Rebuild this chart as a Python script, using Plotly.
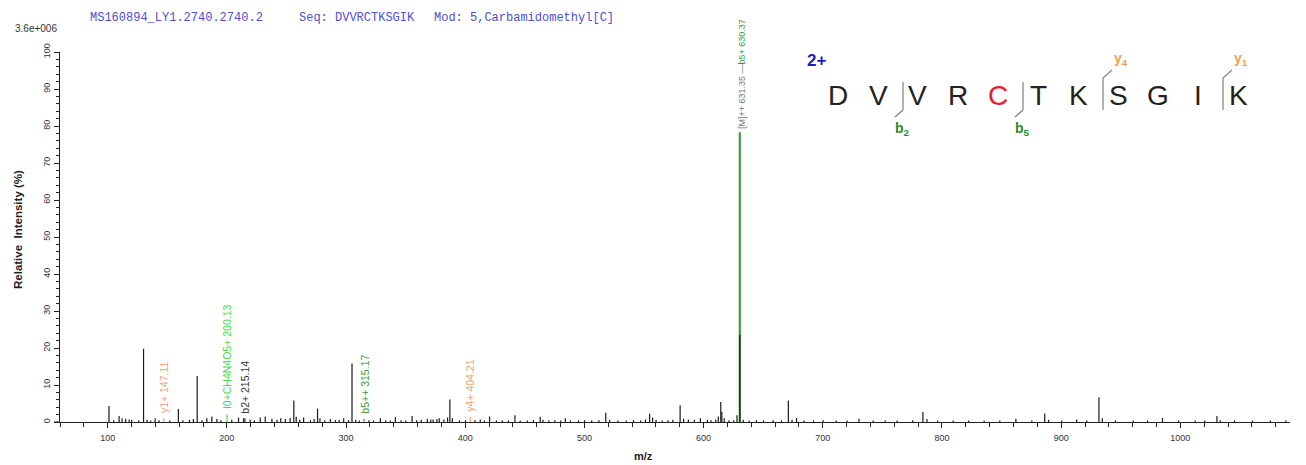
import plotly.graph_objects as go

# ---------------- data ----------------
peak_mz = [101.1, 105.1, 109.6, 112.1, 115.1, 118.0, 120.1, 126.1, 130.1, 133.1, 136.1, 139.8,
           143.1, 152.1, 159.3, 163.1, 168.6, 171.9, 175.1, 179.1, 183.2, 187.4, 191.6, 195.1,
           204.1, 209.8, 214.0, 219.6, 223.1, 228.0, 232.2, 237.8, 242.1, 245.2, 249.1, 253.1,
           256.2, 258.2, 261.1, 264.4, 270.1, 273.2, 276.1, 278.1, 282.1, 286.8, 291.1, 294.2,
           298.0, 302.1, 305.0, 308.1, 311.1, 319.2, 323.1, 328.8, 333.2, 337.1, 341.4, 346.2,
           350.1, 355.4, 359.2, 363.1, 368.2, 371.1, 373.1, 376.2, 378.2, 382.1, 385.2, 387.1,
           389.2, 395.1, 400.2, 408.2, 412.6, 416.1, 420.4, 426.2, 431.1, 436.2, 441.7, 446.1,
           452.2, 457.2, 462.9, 465.2, 470.1, 475.2, 480.2, 484.0, 488.2, 495.1, 500.2, 506.1,
           512.2, 517.9, 521.2, 528.2, 535.1, 541.2, 547.2, 551.2, 554.7, 557.2, 560.1, 565.3,
           570.2, 574.2, 580.3, 583.2, 587.2, 592.2, 597.3, 603.2, 606.2, 610.2, 612.3, 614.4,
           615.3, 617.3, 621.2, 625.3, 628.0, 633.3, 638.2, 644.3, 650.3, 658.3, 665.3, 671.1,
           674.2, 678.0, 684.3, 692.3, 700.3, 711.3, 720.4, 730.4, 742.3, 752.4, 762.4, 775.4,
           784.0, 787.4, 796.4, 809.4, 822.4, 835.4, 848.5, 862.0, 875.4, 886.2, 889.5, 900.5,
           913.0, 921.5, 931.7, 934.5, 945.5, 960.5, 972.5, 985.0, 998.5, 1012.5, 1020.5, 1030.7,
           1033.5, 1045.5, 1060.5, 1075.5, 1088.5]
peak_int = [4.3, 0.5, 1.6, 1.0, 0.9, 0.7, 0.6, 0.5, 19.8, 0.6, 0.4, 1.0,
            0.5, 0.4, 3.5, 0.5, 0.6, 0.8, 12.4, 0.5, 1.0, 1.5, 0.8, 0.5,
            0.6, 1.2, 1.0, 0.7, 0.5, 1.2, 1.5, 0.9, 0.6, 1.0, 0.8, 1.1,
            5.8, 1.4, 0.6, 1.2, 0.5, 0.8, 3.6, 1.0, 0.5, 0.8, 0.5, 0.6,
            1.0, 0.5, 15.8, 0.6, 0.4, 0.5, 0.4, 1.0, 0.5, 0.4, 1.3, 0.5,
            0.4, 1.6, 0.5, 0.6, 0.9, 0.7, 0.7, 0.8, 1.0, 0.7, 1.2, 6.1,
            1.0, 0.4, 0.5, 0.5, 0.7, 0.4, 1.5, 0.4, 0.5, 0.4, 1.8, 0.4,
            0.4, 0.5, 1.4, 0.6, 0.4, 0.5, 0.4, 1.0, 0.4, 0.4, 0.5, 0.4,
            0.5, 2.5, 0.6, 0.4, 0.4, 0.5, 0.4, 0.7, 2.2, 1.2, 0.6, 0.4,
            0.5, 0.6, 4.5, 0.9, 0.7, 0.6, 1.0, 0.6, 0.5, 0.7, 1.5, 5.4,
            2.8, 1.0, 0.4, 0.5, 1.8, 0.6, 0.4, 0.5, 0.4, 0.5, 0.4, 5.8,
            0.6, 1.1, 0.4, 0.4, 0.5, 0.4, 0.4, 0.9, 0.4, 0.4, 0.4, 0.5,
            2.7, 0.8, 0.4, 0.4, 0.4, 0.4, 0.4, 0.9, 0.4, 2.3, 0.6, 0.4,
            0.7, 0.4, 6.7, 1.0, 0.4, 0.4, 0.4, 1.1, 0.4, 0.4, 0.4, 1.6,
            0.5, 0.4, 0.4, 0.4, 0.4]

# annotated fragment peaks
label_mz = [147.11, 200.13, 215.14, 315.17, 404.21]
label_int = [1.0, 2.0, 1.0, 0.8, 1.5]
label_text = ["y1+ 147.11", "I0+CH4N4O5+ 200.13", "b2+ 215.14", "b5++ 315.17", "y4+ 404.21"]
label_color = ["#f0a070", "#44dd44", "#333333", "#3a9a3a", "#f0a070"]

# base peak (b5+ / precursor)
main_mz = 630.37
main_int_green = 78.3
main_int_black = 23.5
main_text_m = "[M]++ 631.35"
main_text_b = "b5+ 630.37"

header_id = "MS160894_LY1.2740.2740.2"
header_seq = "Seq: DVVRCTKSGIK"
header_mod = "Mod: 5,Carbamidomethyl[C]"
max_intensity = "3.6e+006"

residues = ["D", "V", "V", "R", "C", "T", "K", "S", "G", "I", "K"]
modified_index = 4
b_ions = [2, 5]          # cleavage after residue n (N-terminal fragments)
y_ions = [4, 1]          # cleavage n residues from C-terminus
charge = "2+"

# ---------------- layout geometry ----------------
OFF = 8                      # page body margin in the browser
W, H = 1298, 457
L, R, T, B = 52, 16, 44, 43
PW, PH = W - L - R, H - T - B
X_RANGE = [60, 1092]
Y_RANGE = [0, 100]


def px(xp):
    """page pixel x -> paper coordinate"""
    return (xp - OFF - L) / PW


def py(yp):
    """page pixel y -> paper coordinate"""
    return (H - B - (yp - OFF)) / PH


def sticks(xs, ys):
    X, Y = [], []
    for a, b in zip(xs, ys):
        X += [a, a, None]
        Y += [0, b, None]
    return X, Y


fig = go.Figure()

gx, gy = sticks([main_mz], [main_int_green])
fig.add_trace(go.Scatter(x=gx, y=gy, mode="lines", line=dict(color="#459845", width=2.2),
                         hoverinfo="skip", showlegend=False))

bx, by = sticks(peak_mz + [main_mz], peak_int + [main_int_black])
fig.add_trace(go.Scatter(x=bx, y=by, mode="lines", line=dict(color="#1a1a1a", width=1.2),
                         hoverinfo="skip", showlegend=False))

for m, i, c in zip(label_mz, label_int, label_color):
    lx, ly = sticks([m], [i])
    fig.add_trace(go.Scatter(x=lx, y=ly, mode="lines", line=dict(color=c, width=1.2),
                             hoverinfo="skip", showlegend=False))

annotations = []
for m, i, t, c in zip(label_mz, label_int, label_text, label_color):
    annotations.append(dict(x=m, y=i, xref="x", yref="y", text=t, textangle=-90,
                            showarrow=False, xanchor="center", yanchor="bottom", yshift=3,
                            font=dict(family="Liberation Sans", size=10.5, color=c)))
annotations.append(dict(x=main_mz, y=main_int_green, xref="x", yref="y",
                        text=main_text_m + " <span style='color:#3a9a3a'>\u2014" + main_text_b + "</span>",
                        textangle=-90, showarrow=False, xanchor="center", yanchor="bottom",
                        xshift=2, yshift=1,
                        font=dict(family="Liberation Sans", size=9, color="#777777")))

# header
hdr_font = dict(family="Liberation Mono", size=12, color="#5050c8")
annotations += [
    dict(x=px(88), y=py(18), xref="paper", yref="paper", text=header_id, showarrow=False,
         xanchor="left", yanchor="middle", font=hdr_font),
    dict(x=px(297), y=py(18), xref="paper", yref="paper", text=header_seq, showarrow=False,
         xanchor="left", yanchor="middle", font=hdr_font),
    dict(x=px(432), y=py(18), xref="paper", yref="paper", text=header_mod, showarrow=False,
         xanchor="left", yanchor="middle", font=hdr_font),
    dict(x=px(36), y=py(29), xref="paper", yref="paper", text=max_intensity, showarrow=False,
         xanchor="center", yanchor="middle",
         font=dict(family="Liberation Sans", size=10, color="#333333")),
    dict(x=px(18), y=py(230), xref="paper", yref="paper", text="<b>Relative  Intensity (%)</b>",
         textangle=-90, showarrow=False, xanchor="center", yanchor="middle",
         font=dict(family="Liberation Sans", size=11.5, color="#222222")),
    dict(x=px(643), y=py(456), xref="paper", yref="paper", text="<b>m/z</b>", showarrow=False,
         xanchor="center", yanchor="middle",
         font=dict(family="Liberation Sans", size=11, color="#222222")),
]

# peptide sequence diagram
seq_x0, seq_dx, seq_y = 838, 40, 95
annotations.append(dict(x=px(816), y=py(60), xref="paper", yref="paper", text="<b>" + charge + "</b>",
                        showarrow=False, xanchor="center", yanchor="middle",
                        font=dict(family="Liberation Sans", size=17, color="#1a1acc")))
for k, r in enumerate(residues):
    annotations.append(dict(x=px(seq_x0 + seq_dx * k), y=py(seq_y), xref="paper", yref="paper",
                            text=r, showarrow=False, xanchor="center", yanchor="middle",
                            font=dict(family="Liberation Sans", size=28,
                                      color="#e8202a" if k == modified_index else "#222222")))

shapes = []
line_style = dict(color="#808080", width=1.2)
n = len(residues)
for b in b_ions:
    xc = seq_x0 + seq_dx * (b - 0.5) + 5
    shapes.append(dict(type="line", xref="paper", yref="paper", x0=px(xc), y0=py(82),
                       x1=px(xc), y1=py(110), line=line_style))
    shapes.append(dict(type="line", xref="paper", yref="paper", x0=px(xc), y0=py(110),
                       x1=px(xc - 8), y1=py(117), line=line_style))
    annotations.append(dict(x=px(xc - 1), y=py(129), xref="paper", yref="paper",
                            text="<b>b<sub>%d</sub></b>" % b, showarrow=False,
                            xanchor="center", yanchor="middle",
                            font=dict(family="Liberation Sans", size=14, color="#2e8b2e")))
for y in y_ions:
    xc = seq_x0 + seq_dx * (n - y - 0.5) + 5
    shapes.append(dict(type="line", xref="paper", yref="paper", x0=px(xc), y0=py(110),
                       x1=px(xc), y1=py(78), line=line_style))
    shapes.append(dict(type="line", xref="paper", yref="paper", x0=px(xc), y0=py(78),
                       x1=px(xc + 9), y1=py(70), line=line_style))
    annotations.append(dict(x=px(xc + 18), y=py(59), xref="paper", yref="paper",
                            text="<b>y<sub>%d</sub></b>" % y, showarrow=False,
                            xanchor="center", yanchor="middle",
                            font=dict(family="Liberation Sans", size=14, color="#f0a050")))

# x axis line protrudes a little left of the y axis
shapes.append(dict(type="line", xref="paper", yref="y", x0=px(54), x1=0, y0=0, y1=0,
                   line=dict(color="#222222", width=1)))

tick_font = dict(family="Liberation Sans", size=9, color="#333333")
fig.update_layout(
    width=W, height=H,
    margin=dict(l=L, r=R, t=T, b=B, pad=0),
    paper_bgcolor="white", plot_bgcolor="white",
    showlegend=False,
    annotations=annotations,
    shapes=shapes,
    xaxis=dict(range=X_RANGE, showgrid=False, zeroline=False, showline=True,
               linecolor="#222222", linewidth=1, ticks="outside", ticklen=5,
               tickcolor="#222222", dtick=100, tick0=0, tickfont=tick_font,
               ticklabelstandoff=2,
               minor=dict(dtick=20, tick0=0, ticks="outside", ticklen=4, tickcolor="#222222")),
    yaxis=dict(range=Y_RANGE, showgrid=False, zeroline=False, showline=True,
               linecolor="#222222", linewidth=1, ticks="outside", ticklen=5,
               tickcolor="#222222", dtick=10, tick0=0, tickangle=-90, tickfont=tick_font,
               minor=dict(dtick=2, tick0=0, ticks="outside", ticklen=3, tickcolor="#222222")),
)

fig.write_html("out.html")
